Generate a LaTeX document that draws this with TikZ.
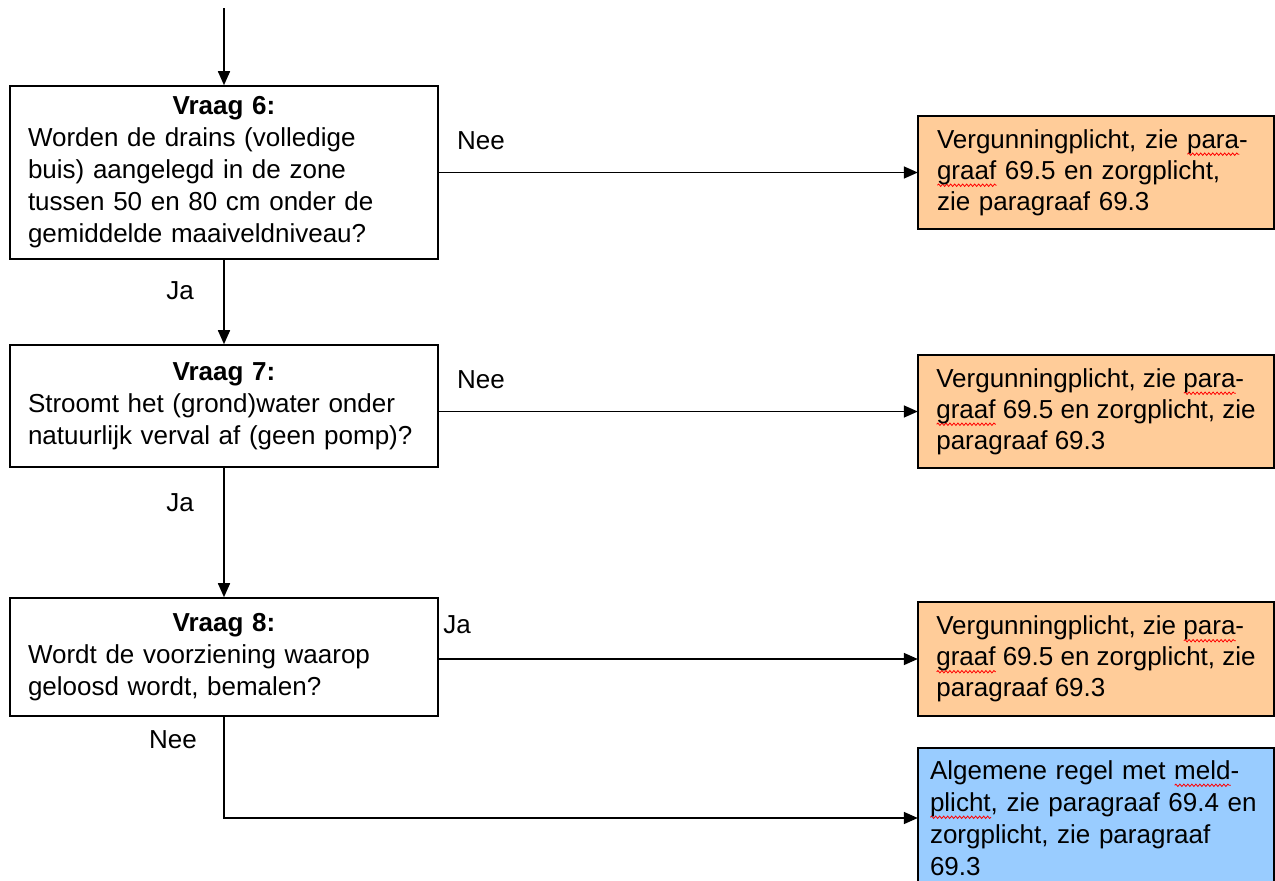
\documentclass[tikz,border=0pt]{standalone}
\usepackage{fontspec}
\setmainfont{Liberation Sans}
\usetikzlibrary{arrows.meta, positioning, decorations.pathmorphing}
\definecolor{orangefill}{HTML}{FFCC99}
\definecolor{bluefill}{HTML}{99CCFF}
\newlength{\wavelen}
\newcommand{\spellwave}[1]{\leavevmode\settowidth{\wavelen}{#1}\rlap{\tikz[baseline=0pt, x=1pt, y=1pt]
  \draw[red, line width=0.8pt, decorate, decoration={snake, amplitude=1.2pt, segment length=4pt}]
  (0,-6) -- (\wavelen,-6);}#1}

\begin{document}
\begin{tikzpicture}[x=1pt, y=-1pt, >={Triangle[length=14pt, width=12pt]}, line width=1.6pt,
    question/.style={draw, rectangle, minimum width=428pt, text width=392pt, inner xsep=18pt,
      align=left, font=\fontsize{26}{32}\selectfont},
    result/.style={draw, rectangle, minimum width=356pt, align=left, fill=orangefill,
      font=\fontsize{26}{31}\selectfont},
    lbl/.style={inner sep=0pt, font=\fontsize{26}{32}\selectfont}]
    \useasboundingbox (0,0) rectangle (1275,881);

    % Question boxes
    \node[question, minimum height=173pt] (q6) at (224, 172.5) {{\centering\bfseries Vraag 6:\par}
      Worden de drains (volledige\\ buis) aangelegd in de zone\\ tussen 50 en 80 cm onder de\\ gemiddelde maaiveldniveau?};
    \node[question, minimum height=122pt] (q7) at (224, 406) {{\centering\bfseries Vraag 7:\par}
      Stroomt het (grond)water onder\\ natuurlijk verval af (geen pomp)?};
    \node[question, minimum height=118pt] (q8) at (224, 657) {{\centering\bfseries Vraag 8:\par}
      Wordt de voorziening waarop\\ geloosd wordt, bemalen?};

    % Result boxes
    \node[result, text width=318pt, inner xsep=19pt, minimum height=113pt] (r1) at (1096, 172.5)
      {Vergunningplicht, zie \spellwave{para}-\\
      \spellwave{graaf} 69.5 en zorgplicht,\\ zie paragraaf 69.3};
    \node[result, minimum height=113pt] (r2) at (1096, 411.5) {Vergunningplicht, zie \spellwave{para}-\\
      \spellwave{graaf} 69.5 en zorgplicht, zie\\ paragraaf 69.3};
    \node[result, minimum height=114pt] (r3) at (1096, 659) {Vergunningplicht, zie \spellwave{para}-\\
      \spellwave{graaf} 69.5 en zorgplicht, zie\\ paragraaf 69.3};
    \node[result, fill=bluefill, text width=332pt, inner xsep=12pt, minimum height=140pt,
      font=\fontsize{26}{32}\selectfont] (r4) at (1096, 818) {Algemene regel met \spellwave{meld}-\\
      \spellwave{plicht}, zie paragraaf 69.4 en\\ zorgplicht, zie paragraaf\\ 69.3};

    % Labels
    \node[lbl] (nee6) at (481, 141) {Nee};
    \node[lbl] (ja6) at (180, 291) {Ja};
    \node[lbl] (nee7) at (481, 380) {Nee};
    \node[lbl] (ja7) at (180, 503) {Ja};
    \node[lbl] (ja8) at (457, 625) {Ja};
    \node[lbl] (nee8) at (173, 740) {Nee};

    % Edges
    \coordinate (start) at (224, 8);
    \draw[->] (start) -- (q6.north);
    \draw[->] (q6.south) -- (q7.north);
    \draw[->] (q7.south) -- (q8.north);
    \draw[->] (q6.east) -- (r1.west);
    \draw[->] (r2.west -| q7.east) -- (r2.west);
    \draw[->] (r3.west -| q8.east) -- (r3.west);
    \draw[->] (q8.south) |- (r4.west);
  \end{tikzpicture}
\end{document}
